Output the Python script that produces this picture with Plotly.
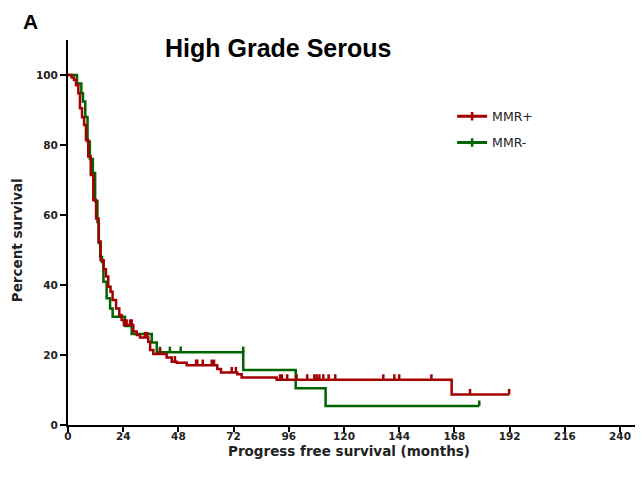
import plotly.graph_objects as go

# ---------------- data ----------------
# MMR+ (red) Kaplan-Meier steps: event times (months) and survival (%) after each step
mmr_pos_time = [0, 1.6, 2.6, 3.5, 4.5, 5.2, 6.1, 7.0, 7.8, 8.8, 9.9, 11.0, 12.2, 13.3,
                14.2, 15.5, 16.5, 17.5, 18.5, 19.4, 20.9, 22.3, 23.3, 24.3, 28.4, 29.9,
                31.3, 34.9, 35.7, 37.1, 42.9, 45.1, 47.3, 51.6, 64.9, 66.5, 73.6, 75.5,
                90.7, 166.8, 191.8]
mmr_pos_surv = [100, 99.3, 98.6, 97.1, 94.8, 90.5, 87.9, 85.7, 81.4, 76.7, 71.4, 64.3, 59.0,
                52.4, 47.1, 44.5, 42.4, 39.5, 38.1, 35.7, 33.3, 31.4, 30.0, 28.6, 26.7, 25.7,
                25.0, 23.8, 21.4, 20.3, 19.3, 18.1, 17.8, 17.1, 16.0, 15.0, 14.5, 13.6,
                12.9, 8.7, 8.7]
mmr_pos_cens_time = [25.5, 27.0, 27.7, 33.5, 34.5, 40.0, 46.5, 55.7, 56.2, 58.6, 62.5, 63.5,
                     71.2, 73.0, 92.2, 93.0, 95.3, 99.4, 104.0, 107.1, 108.1, 109.3, 111.0,
                     113.3, 116.2, 137.1, 141.9, 144.0, 158.0, 174.8, 191.8]
mmr_pos_cens_surv = [28.6, 28.6, 28.6, 25.0, 25.0, 20.3, 18.1, 17.1, 17.1, 17.1, 17.1, 17.1,
                     15.0, 15.0, 12.9, 12.9, 12.9, 12.9, 12.9, 12.9, 12.9, 12.9, 12.9,
                     12.9, 12.9, 12.9, 12.9, 12.9, 12.9, 8.7, 8.7]

# MMR- (green)
mmr_neg_time = [0, 3.9, 5.8, 6.5, 7.5, 8.5, 9.5, 10.8, 11.8, 12.8, 13.4, 14.0, 14.8, 15.4,
                16.8, 18.3, 19.4, 24.8, 27.7, 36.4, 38.6, 76.2, 99.0, 112.0, 178.8]
mmr_neg_surv = [100, 97.6, 94.8, 92.4, 88.0, 81.0, 76.0, 72.0, 64.0, 58.0, 52.0, 48.0, 46.6,
                40.9, 36.2, 33.3, 30.9, 28.3, 26.0, 23.6, 20.8, 15.7, 10.5, 5.4, 5.4]
mmr_neg_cens_time = [40.0, 44.3, 49.0, 76.2, 178.8]
mmr_neg_cens_surv = [20.8, 20.8, 20.8, 20.8, 5.4]

x_ticks = [0, 24, 48, 72, 96, 120, 144, 168, 192, 216, 240]
y_ticks = [0, 20, 40, 60, 80, 100]
x_range = [0, 250]
y_range = [0, 110]

RED = "#A30000"
GREEN = "#006400"

fig = go.Figure()


def add_group(name, t, s, ct, cs, color, group, rank):
    fig.add_trace(go.Scatter(x=t, y=s, mode="lines", line=dict(color=color, width=2.5, shape="hv"),
                             showlegend=False, hoverinfo="skip", legendgroup=group))
    fig.add_trace(go.Scatter(x=ct, y=cs, mode="markers", marker=dict(size=1, color=color, opacity=0),
                             error_y=dict(type="data", symmetric=False, array=[1.6] * len(ct),
                                          arrayminus=[0] * len(ct), width=0, thickness=2.5,
                                          color=color),
                             showlegend=False, hoverinfo="skip", legendgroup=group))
    # legend entry
    fig.add_trace(go.Scatter(x=[None], y=[None], mode="lines+markers", name=name,
                             line=dict(color=color, width=3),
                             marker=dict(symbol="line-ns", size=6, line=dict(color=color, width=2.5)),
                             legendgroup=group, legendrank=rank))


add_group("MMR-", mmr_neg_time, mmr_neg_surv, mmr_neg_cens_time, mmr_neg_cens_surv, GREEN, "neg", 2)
add_group("MMR+", mmr_pos_time, mmr_pos_surv, mmr_pos_cens_time, mmr_pos_cens_surv, RED, "pos", 1)

# invisible trace on the tick-only overlay axis
fig.add_trace(go.Scatter(x=[None], y=[None], xaxis="x2", showlegend=False, hoverinfo="skip"))

tickfont = dict(family="DejaVu Sans", size=10.5, color="#222222", weight="bold")

fig.update_layout(
    width=635, height=481,
    margin=dict(l=60, r=0, t=32, b=64),
    paper_bgcolor="white", plot_bgcolor="white",
    showlegend=True,
    legend=dict(x=0.668, y=0.84, xanchor="left", yanchor="top", traceorder="grouped",
                tracegroupgap=7, bgcolor="rgba(0,0,0,0)",
                font=dict(family="DejaVu Sans", size=12.5, color="#222222")),
    xaxis=dict(range=x_range, tickvals=x_ticks, ticktext=[str(v) for v in x_ticks],
               showgrid=False, zeroline=False, showline=True, linecolor="black", linewidth=2,
               ticks="", tickfont=tickfont, automargin=False),
    xaxis2=dict(range=x_range, overlaying="x", side="bottom", anchor="y", tickvals=x_ticks,
                showticklabels=False, showgrid=False, zeroline=False, showline=False,
                ticks="outside", ticklen=6, tickwidth=2, tickcolor="black"),
    yaxis=dict(range=y_range, tickvals=y_ticks, ticktext=[str(v) for v in y_ticks],
               showgrid=False, zeroline=False, showline=True, linecolor="black", linewidth=2,
               ticks="outside", ticklen=6, tickwidth=2, tickcolor="black", tickfont=tickfont,
               automargin=False),
    annotations=[
        dict(text="High Grade Serous", xref="paper", yref="paper", x=0.366, y=0.979,
             xanchor="center", yanchor="middle", showarrow=False,
             font=dict(family="Liberation Sans", size=25, color="black", weight="bold")),
        dict(text="A", xref="paper", yref="paper", x=-0.066, y=1.049,
             xanchor="center", yanchor="middle", showarrow=False,
             font=dict(family="Liberation Sans", size=21, color="black", weight="bold")),
        dict(text="Progress free survival (months)", xref="paper", yref="paper", x=0.489, y=-0.067,
             xanchor="center", yanchor="middle", showarrow=False,
             font=dict(family="DejaVu Sans", size=13.5, color="#222222", weight="bold")),
        dict(text="Percent survival", xref="paper", yref="paper", x=-0.0887, y=0.48,
             xanchor="center", yanchor="middle", showarrow=False, textangle=-90,
             font=dict(family="DejaVu Sans", size=13.5, color="#222222", weight="bold")),
    ],
)

fig.write_html("out.html")
